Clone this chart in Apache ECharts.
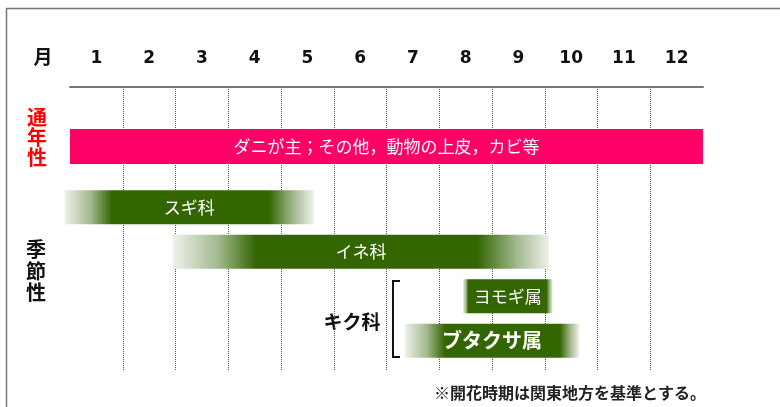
<!DOCTYPE html>
<html><head><meta charset="utf-8">
<script src="https://cdn.jsdelivr.net/npm/echarts@6/dist/echarts.min.js"></script>
<style>html,body{margin:0;padding:0;background:#fff}#c{width:780px;height:407px}</style>
</head><body><div id="c"></div>
<script>
const months = ['1','2','3','4','5','6','7','8','9','10','11','12'];
const perennialNames = ['ダニが主；その他，動物の上皮，カビ等'];
const perennialStart = [0];
const perennialEnd = [12];
const seasonalNames = ['スギ科','イネ科','ヨモギ属','ブタクサ属'];
const seasonalStart = [-0.1, 1.95, 7.45, 6.35];
const seasonalEnd = [4.62, 9.08, 9.15, 9.65];

const FONT = '"Noto Sans CJK JP", sans-serif';
const GREEN = '#336600';
// fade styles (left, right) per seasonal bar
const fades = [[0.19,0.18],[0.22,0.19],[0.06,0.07],[0.23,0.11]];
const labelSizes = [17,17,17,20];

function fadeFill(fl, fr){
  const stops = [];
  if (fl > 0) { stops.push({offset:0,color:'#eef2ea'},{offset:fl*0.55,color:'#a3b88f'}); }
  stops.push({offset:fl,color:GREEN},{offset:1-fr,color:GREEN});
  if (fr > 0) { stops.push({offset:1-fr*0.45,color:'#a3b88f'},{offset:1,color:'#eef2ea'}); }
  return {type:'linear',x:0,y:0,x2:1,y2:0,colorStops:stops};
}

const chart = echarts.init(document.getElementById('c'), null, {renderer:'canvas'});

function renderBar(kind){
  return function(params, api){
    const i = params.dataIndex;
    const s = api.value(0), e = api.value(1), row = api.value(2);
    const p0 = api.coord([s,row]), p1 = api.coord([e,row]);
    const h = kind === 'p' ? 35 : 34;
    const fill = kind === 'p' ? '#FF0066' : fadeFill(fades[i][0], fades[i][1]);
    const name = kind === 'p' ? perennialNames[i] : seasonalNames[i];
    const fs = kind === 'p' ? 17 : labelSizes[i];
    const fw = (kind !== 'p' && i === 3) ? 'bold' : 'normal';
    return {type:'group', children:[
      {type:'rect', shape:{x:p0[0], y:p0[1]-h/2, width:p1[0]-p0[0], height:h}, style:{fill:fill}},
      {type:'text', style:{text:name, x:(p0[0]+p1[0])/2, y:p0[1], align:'center', verticalAlign:'middle',
        fill:'#fff', fontSize:fs, fontWeight:fw, fontFamily:FONT}}
    ]};
  };
}

const option = {
  animation:false,
  grid:[
    {left:70, right:77, top:87, bottom:37},
    {left:70, right:77, top:129, height:35},
    {left:70, right:77, top:185, height:178}
  ],
  xAxis:[
    {type:'category', gridIndex:0, data:months, position:'top',
     axisLine:{show:true, onZero:false, lineStyle:{color:'#777', width:2}}, axisTick:{show:false}, splitLine:{show:false},
     axisLabel:{margin:20, fontSize:17, fontWeight:'bold', color:'#111', fontFamily:'"DejaVu Sans", sans-serif'}},
    {type:'value', gridIndex:0, min:0, max:12, interval:1, position:'top',
     axisLine:{show:false, onZero:false}, axisTick:{show:false}, axisLabel:{show:false},
     splitLine:{show:true, showMinLine:false, showMaxLine:false, lineStyle:{type:'dotted', color:'#555', width:1}}},
    {type:'value', gridIndex:1, min:0, max:12, show:false},
    {type:'value', gridIndex:2, min:0, max:12, show:false}
  ],
  yAxis:[
    {type:'value', gridIndex:0, show:false},
    {type:'category', gridIndex:1, data:['通年性'], show:false},
    {type:'category', gridIndex:2, data:seasonalNames, inverse:true, show:false}
  ],
  series:[
    {type:'custom', xAxisIndex:2, yAxisIndex:1, renderItem:renderBar('p'), clip:false,
     encode:{x:[0,1], y:2},
     data: perennialNames.map((n,i)=>[perennialStart[i], perennialEnd[i], i])},
    {type:'custom', xAxisIndex:3, yAxisIndex:2, renderItem:renderBar('s'), clip:false,
     encode:{x:[0,1], y:2},
     data: seasonalNames.map((n,i)=>[seasonalStart[i], seasonalEnd[i], i])}
  ],
  graphic:[
    {type:'polyline', shape:{points:[[6.5,407],[6.5,8.5],[780,8.5]]}, style:{stroke:'#777', lineWidth:1.5, fill:null}},
    {type:'text', x:43, y:57, style:{text:'月', align:'center', verticalAlign:'middle', fontSize:19, fontWeight:'bold', fill:'#111', fontFamily:FONT}},
    {type:'text', x:37, y:137, style:{text:'通\n年\n性', align:'center', verticalAlign:'middle', fontSize:20, lineHeight:20, fontWeight:'bold', fill:'#ff0000', fontFamily:FONT}},
    {type:'text', x:36, y:271, style:{text:'季\n節\n性', align:'center', verticalAlign:'middle', fontSize:20, lineHeight:21.5, fontWeight:'bold', fill:'#111', fontFamily:FONT}},
    {type:'text', x:352, y:322, style:{text:'キク科', align:'center', verticalAlign:'middle', fontSize:19, fontWeight:'bold', fill:'#111', fontFamily:FONT}},
    {type:'polyline', shape:{points:[[400,281],[393,281],[393,357],[400,357]]}, style:{stroke:'#111', lineWidth:2, fill:null}},
    {type:'text', x:706, y:393, style:{text:'※開花時期は関東地方を基準とする。', align:'right', verticalAlign:'middle', fontSize:16, fontWeight:'bold', fill:'#222', fontFamily:FONT}}
  ]
};
chart.setOption(option);
</script>
</body></html>
